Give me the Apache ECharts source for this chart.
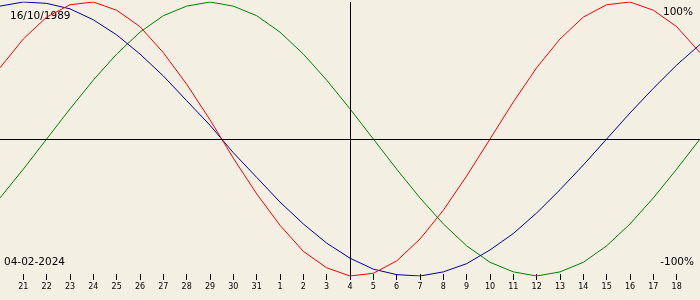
<!DOCTYPE html>
<html>
<head>
<meta charset="utf-8">
<script src="https://cdn.jsdelivr.net/npm/echarts@6/dist/echarts.min.js"></script>
<style>
html,body{margin:0;padding:0;background:#f3efe3;}
#chart{width:700px;height:300px;}
</style>
</head>
<body>
<div id="chart"></div>
<script>
// day offsets relative to 04-02-2024 (Jan 20 .. Feb 19)
const dayOffsets = [-15,-14,-13,-12,-11,-10,-9,-8,-7,-6,-5,-4,-3,-2,-1,0,1,2,3,4,5,6,7,8,9,10,11,12,13,14,15];
// tick labels for offsets -14 .. 14
const tickLabels = ["21","22","23","24","25","26","27","28","29","30","31","1","2","3","4","5","6","7","8","9","10","11","12","13","14","15","16","17","18"];
// physical (red)
const physical = [0.52,0.73,0.89,0.98,1.00,0.94,0.82,0.63,0.40,0.14,-0.14,-0.40,-0.63,-0.82,-0.94,-1.00,-0.98,-0.89,-0.73,-0.52,-0.27,0.00,0.27,0.52,0.73,0.89,0.98,1.00,0.94,0.82,0.63];
// emotional (green)
const emotional = [-0.43,-0.22,0.00,0.22,0.43,0.62,0.78,0.90,0.97,1.00,0.97,0.90,0.78,0.62,0.43,0.22,0.00,-0.22,-0.43,-0.62,-0.78,-0.90,-0.97,-1.00,-0.97,-0.90,-0.78,-0.62,-0.43,-0.22,0.00];
// intellectual (blue)
const intellectual = [0.97,1.00,0.99,0.95,0.87,0.76,0.62,0.46,0.28,0.10,-0.10,-0.28,-0.46,-0.62,-0.76,-0.87,-0.95,-0.99,-1.00,-0.97,-0.91,-0.81,-0.69,-0.54,-0.37,-0.19,0.00,0.19,0.37,0.54,0.69];
const birthDate = "16/10/1989";
const targetDate = "04-02-2024";
const topLabel = "100%";
const bottomLabel = "-100%";

const pair = arr => dayOffsets.map((d,i)=>[d,arr[i]]);
const chart = echarts.init(document.getElementById('chart'), null, {renderer:'canvas'});
const txtFont = {fontFamily:'DejaVu Sans', fontSize:10.5, fill:'#000'};
chart.setOption({
  backgroundColor:'#f3efe3',
  animation:false,
  grid:{left:-1, right:-1, top:2, height:274},
  xAxis:{
    type:'value', min:-15, max:15, interval:1, position:'bottom',
    axisLine:{show:false, onZero:false},
    splitLine:{show:false},
    axisTick:{show:true, length:6, lineStyle:{color:'#000', width:1}},
    offset:-2,
    axisLabel:{
      show:true, margin:9, color:'#000', fontSize:8, fontFamily:'DejaVu Sans',
      showMinLabel:false, showMaxLabel:false,
      formatter: v => { const l = tickLabels[v+14]; return l === undefined ? '' : l; }
    }
  },
  yAxis:{
    type:'value', min:-1, max:1,
    axisLine:{show:false}, axisTick:{show:false}, axisLabel:{show:false}, splitLine:{show:false}
  },
  series:[
    {type:'line', data:pair(emotional), showSymbol:false, lineStyle:{color:'#008000', width:1}, itemStyle:{color:'#008000'},
     markLine:{silent:true, symbol:'none', label:{show:false}, lineStyle:{color:'#000', width:1, type:'solid'},
       data:[{yAxis:0},{xAxis:0}]}},
    {type:'line', data:pair(intellectual), showSymbol:false, lineStyle:{color:'#000099', width:1}, itemStyle:{color:'#000099'}},
    {type:'line', data:pair(physical), showSymbol:false, lineStyle:{color:'#ff0000', width:1}, itemStyle:{color:'#ff0000'}}
  ],
  graphic:[
    {type:'text', left:10, top:11, style:Object.assign({text:birthDate}, txtFont)},
    {type:'text', right:7, top:7, style:Object.assign({text:topLabel}, txtFont)},
    {type:'text', left:4, top:257, style:Object.assign({text:targetDate}, txtFont)},
    {type:'text', right:6, top:257, style:Object.assign({text:bottomLabel}, txtFont)}
  ]
});
</script>
</body>
</html>
